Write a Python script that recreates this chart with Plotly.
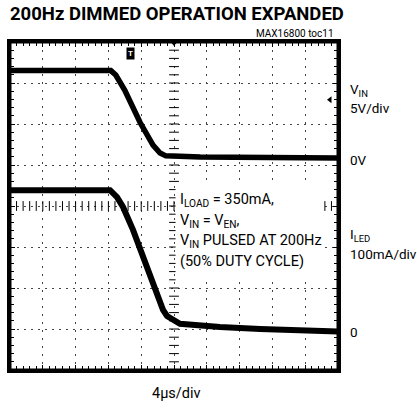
import numpy as np
import plotly.graph_objects as go

# ---- data ----
t_vin = [0.0, 12.3, 12.9, 14.0, 15.85, 17.44, 18.3, 19.0, 23.2, 40.0]          # µs
vin_v = [10.6, 10.6, 10.06, 8.2, 4.3, 1.5, 0.55, 0.2, 0.06, -0.06]              # V

t_iled = [0.0, 12.2, 13.05, 13.78, 15.0, 16.22, 17.44, 18.66, 19.15, 20.73, 25.6, 30.5, 40.0]  # µs
iled_ma = [346, 346, 329, 305, 249, 183, 110, 54, 39, 20, 12, 7, 1]                            # mA

title = "200Hz DIMMED OPERATION EXPANDED"
source = "MAX16800 toc11"
note_lines = ["I<sub>LOAD</sub> = 350mA,", "V<sub>IN</sub> = V<sub>EN</sub>,",
              "V<sub>IN</sub> PULSED AT 200Hz", "(50% DUTY CYCLE)"]
xlabel = "4µs/div"

FONT = "Roboto, Liberation Sans, sans-serif"

# scope screen settings: channel scale (units/div) and ground-marker position (div)
t_div = 4.0
n_xdiv, n_ydiv = 10, 8
vin_per_div, vin_zero_div = 5.0, 5.183
iled_per_div, iled_zero_div = 100.0, 0.927

W, H = 417, 408
ML, MR, MT, MB = 10, 79, 42, 38
PW, PH = W - ML - MR, H - MT - MB

x_max = n_xdiv * t_div
xc = x_max / 2
yc = n_ydiv / 2
x_minor = np.linspace(0, x_max, n_xdiv * 5 + 1)
y_minor = np.linspace(0, n_ydiv, n_ydiv * 5 + 1)
ux = x_max / PW      # µs per pixel


def paper_x(px):
    return (px - ML) / PW


def paper_y(py):
    return (H - MB - py) / PH


# each channel is displayed on the screen in divisions (scope vertical scale)
vin_screen = vin_zero_div + np.array(vin_v) / vin_per_div
iled_screen = iled_zero_div + np.array(iled_ma) / iled_per_div

fig = go.Figure()

def tick_trace(x, y, symbol, size=6, width=1):
    return go.Scatter(x=x, y=y, mode="markers",
                      marker=dict(symbol=symbol, size=size, line=dict(width=width, color="black")),
                      hoverinfo="skip", showlegend=False, cliponaxis=False)

# centre-line cross ticks
fig.add_trace(tick_trace([xc] * len(y_minor), y_minor, "line-ew", 7))
fig.add_trace(tick_trace(x_minor, [yc] * len(x_minor), "line-ns", 7))

fig.add_trace(go.Scatter(x=t_vin, y=vin_screen, mode="lines", name="VIN",
                         line=dict(color="black", width=5.5), showlegend=False))
fig.add_trace(go.Scatter(x=t_iled, y=iled_screen, mode="lines", name="ILED",
                         line=dict(color="black", width=6), showlegend=False))

# trigger / reference markers
fig.add_trace(go.Scatter(x=[xc], y=[n_ydiv], mode="markers",
                         marker=dict(symbol="triangle-down", size=8, color="black"),
                         showlegend=False, cliponaxis=False, hoverinfo="skip"))
fig.add_trace(go.Scatter(x=[x_max - 8 * ux], y=[6.59], mode="markers",
                         marker=dict(symbol="triangle-left", size=6, color="black"),
                         showlegend=False, cliponaxis=False, hoverinfo="skip"))

ax_common = dict(showline=True, linewidth=3, linecolor="black", mirror="ticks",
                 ticks="inside", ticklen=5, tickwidth=1, tickcolor="black",
                 showticklabels=False, zeroline=False,
                 showgrid=True, gridcolor="#444", gridwidth=1.2)

fig.update_layout(
    width=W, height=H,
    margin=dict(l=ML, r=MR, t=MT, b=MB),
    paper_bgcolor="white", plot_bgcolor="white",
    xaxis=dict(range=[0, x_max], dtick=t_div, griddash="2px,6px",
               minor=dict(dtick=t_div / 5, ticks="inside", ticklen=4, tickcolor="black", showgrid=False),
               **ax_common),
    yaxis=dict(range=[0, n_ydiv], dtick=1, griddash="2px,5px",
               minor=dict(dtick=0.2, ticks="inside", ticklen=4, tickcolor="black", showgrid=False),
               **ax_common),
    font=dict(family=FONT, color="black"),
    showlegend=False,
)

# screen frame (coincides with the axis lines) and white panel behind the note
fig.add_shape(type="rect", xref="paper", yref="paper", x0=0, x1=1, y0=0, y1=1,
              line=dict(color="black", width=3), layer="above")
fig.add_shape(type="rect", xref="paper", yref="paper",
              x0=paper_x(175.6), x1=paper_x(321.6), y0=paper_y(281.4), y1=paper_y(183),
              fillcolor="white", line=dict(width=0), layer="above")

ann = []
ann.append(dict(text="<b>" + title + "</b>", xref="paper", yref="paper", x=paper_x(8), y=paper_y(14),
                xanchor="left", yanchor="middle", showarrow=False,
                font=dict(family=FONT, size=18.5, color="black", weight=900)))
ann.append(dict(text=source, xref="paper", yref="paper", x=paper_x(336), y=paper_y(33),
                xanchor="right", yanchor="middle", showarrow=False, font=dict(size=10)))
for i, line in enumerate(note_lines):
    ann.append(dict(text=line, xref="paper", yref="paper", x=paper_x(178), y=paper_y(200 + 20.5 * i),
                    xanchor="left", yanchor="middle", align="left", showarrow=False,
                    font=dict(size=14.5)))
right = [("V<sub>IN</sub>", 90), ("5V/div", 108), ("0V", 160),
         ("I<sub>LED</sub>", 235), ("100mA/div", 254), ("0", 332)]
for txt, yy in right:
    ann.append(dict(text=txt, xref="paper", yref="paper", x=paper_x(348), y=paper_y(yy),
                    xanchor="left", yanchor="middle", showarrow=False, font=dict(size=13.5)))
ann.append(dict(text=xlabel, xref="paper", yref="paper", x=paper_x(176), y=paper_y(393),
                xanchor="center", yanchor="middle", showarrow=False, font=dict(size=14.5)))
ann.append(dict(text="<b>T</b>", x=14.75, y=7.71, xref="x", yref="y", showarrow=False,
                bgcolor="black", borderpad=1, font=dict(size=8, color="white")))
fig.update_layout(annotations=ann)

fig.write_html("out.html", post_script="document.body.style.margin='0';",
               config={"displayModeBar": False})
